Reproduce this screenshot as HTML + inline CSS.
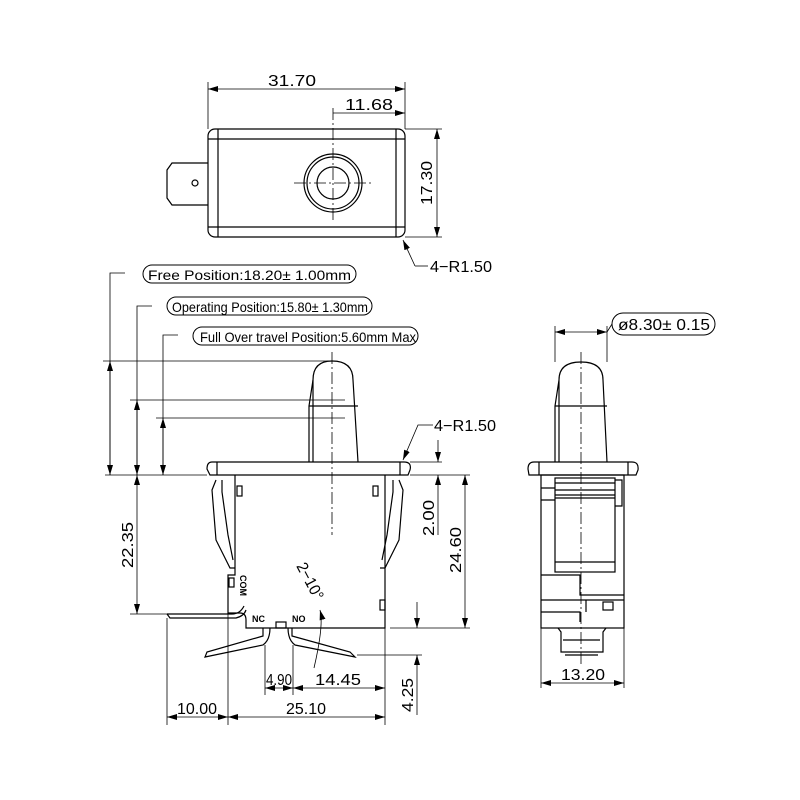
<!DOCTYPE html>
<html><head><meta charset="utf-8"><style>
html,body{margin:0;padding:0;background:#fff;}
svg{display:block;}
text{font-family:"Liberation Sans",sans-serif;fill:#000;}
</style></head><body>
<svg width="800" height="800" viewBox="0 0 800 800" xmlns="http://www.w3.org/2000/svg">
<defs>
<marker id="a" viewBox="0 0 10 6" refX="10" refY="3" markerWidth="10" markerHeight="6" orient="auto-start-reverse" markerUnits="userSpaceOnUse"><path d="M0,0L10,3L0,6z" fill="#000"/></marker>
</defs>
<g fill="none" stroke="#000" stroke-width="1.2">
<rect x="208" y="129" width="197" height="108" rx="7"/>
<line x1="218" y1="129" x2="218" y2="237"/><line x1="396" y1="129" x2="396" y2="237"/>
<line x1="208" y1="139" x2="405" y2="139"/><line x1="208" y1="227" x2="405" y2="227"/>
<path d="M208,163H172L167,170V198L172,205H208"/>
<circle cx="195" cy="183" r="3"/>
<circle cx="333" cy="183" r="29"/><circle cx="333" cy="183" r="26"/><circle cx="333" cy="183" r="16"/>
<g stroke-width="0.8" stroke-dasharray="12,3,2,3"><line x1="333" y1="108" x2="333" y2="222"/><line x1="294" y1="183" x2="372" y2="183"/></g>
<g stroke-width="0.8">
<line x1="208" y1="82" x2="208" y2="129"/><line x1="405" y1="82" x2="405" y2="129"/>
<line x1="208" y1="89" x2="405" y2="89" marker-start="url(#a)" marker-end="url(#a)"/>
<line x1="333" y1="113" x2="405" y2="113" marker-end="url(#a)"/>
<line x1="405" y1="129" x2="442" y2="129"/><line x1="405" y1="237" x2="442" y2="237"/>
<line x1="437" y1="129" x2="437" y2="237" marker-start="url(#a)" marker-end="url(#a)"/>
<path d="M415,266L403,240" marker-end="url(#a)"/><line x1="415" y1="266" x2="428" y2="266"/>
</g>
<path d="M313,462V380Q313,361 332,361Q353,361 353,380L358,462"/>
<path d="M309,462L309,406L313,380M309,406H358"/>
<path d="M212,462H404Q412,462 410,470L408,475H210L207,469Q207,462 212,462Z"/>
<line x1="217" y1="462" x2="217" y2="475"/><line x1="400" y1="462" x2="400" y2="475"/>
<path d="M235,475V575H228V613H240Q246,613 246,620V628H385V475"/>
<path d="M216,480L212,490L216,540L230,568H235M222,480L222,492L228,535L233,560"/>
<path d="M399,480L403,490L399,540L385,568H380M393,480L393,492L387,535L382,560"/>
<rect x="237" y="486" width="5" height="10"/><rect x="373" y="486" width="5" height="10"/>
<rect x="229" y="578" width="5" height="9"/><rect x="380" y="600" width="5" height="10"/>
<rect x="276" y="622" width="10" height="6"/>
<path d="M167,614H232Q240,614 244,606M167,614L170,618H236Q244,616 246,610"/>
<path d="M263,628V636L207,652L205,657L263,645Q270,640 270,628"/>
<path d="M292,628V636L350,652L355,657L295,645Q288,640 288,628"/>
<g stroke-width="0.8" stroke-dasharray="12,3,2,3"><line x1="332" y1="352" x2="332" y2="535"/></g>
<g stroke-width="0.8">
<line x1="103" y1="361" x2="332" y2="361"/>
<line x1="130" y1="400" x2="345" y2="400"/>
<line x1="156" y1="418" x2="345" y2="418"/>
<line x1="105" y1="475" x2="207" y2="475"/>
<line x1="410" y1="475" x2="470" y2="475"/><line x1="410" y1="462" x2="442" y2="462"/>
<path d="M125,273H110V475" /><line x1="110" y1="361" x2="110" y2="475" marker-start="url(#a)" marker-end="url(#a)"/>
<path d="M152,306H137V475"/><line x1="137" y1="400" x2="137" y2="475" marker-start="url(#a)" marker-end="url(#a)"/>
<path d="M178,335H163V475"/><line x1="163" y1="418" x2="163" y2="475" marker-start="url(#a)" marker-end="url(#a)"/>
<path d="M433,425H418L403,460" marker-end="url(#a)"/>
<line x1="137" y1="475" x2="137" y2="614" marker-start="url(#a)" marker-end="url(#a)"/>
<line x1="130" y1="614" x2="167" y2="614"/>
<line x1="438" y1="440" x2="438" y2="462" marker-end="url(#a)"/><line x1="438" y1="475" x2="438" y2="535" marker-start="url(#a)"/>
<line x1="390" y1="628" x2="470" y2="628"/>
<line x1="465" y1="475" x2="465" y2="628" marker-start="url(#a)" marker-end="url(#a)"/>
<line x1="357" y1="655" x2="422" y2="655"/>
<line x1="417" y1="602" x2="417" y2="628" marker-end="url(#a)"/><line x1="417" y1="655" x2="417" y2="715" marker-start="url(#a)"/>
<line x1="167" y1="618" x2="167" y2="725"/><line x1="228" y1="613" x2="228" y2="725"/><line x1="385" y1="628" x2="385" y2="725"/>
<line x1="265" y1="645" x2="265" y2="695"/><line x1="293" y1="645" x2="293" y2="695"/>
<line x1="265" y1="688" x2="293" y2="688" marker-start="url(#a)" marker-end="url(#a)"/>
<line x1="293" y1="688" x2="385" y2="688" marker-start="url(#a)" marker-end="url(#a)"/>
<line x1="167" y1="717" x2="228" y2="717" marker-start="url(#a)" marker-end="url(#a)"/>
<line x1="228" y1="717" x2="385" y2="717" marker-start="url(#a)" marker-end="url(#a)"/>
<path d="M320,610Q324,625 314,668" marker-start="url(#a)"/>
</g>
<g stroke-width="1">
<rect x="143" y="265" width="213" height="18" rx="9"/>
<rect x="167" y="297" width="205" height="18" rx="9"/>
<rect x="193" y="327" width="225" height="18" rx="9"/>
<rect x="612" y="313" width="103" height="22" rx="11"/>
</g>
<path d="M559,462V380Q559,362 581,362Q603,362 603,380L607,462M555,462V406L559,380M555,406H607"/>
<path d="M534,462H632Q639,462 638,470L636,475H529L528,469Q528,462 534,462Z"/>
<line x1="539" y1="462" x2="539" y2="475"/><line x1="628" y1="462" x2="628" y2="475"/>
<rect x="541" y="475" width="83" height="153"/>
<rect x="555" y="478" width="60" height="94"/>
<line x1="555" y1="483" x2="615" y2="483"/><line x1="555" y1="490" x2="615" y2="490"/><line x1="555" y1="495" x2="615" y2="495"/><line x1="555" y1="498" x2="615" y2="498"/><line x1="555" y1="562" x2="615" y2="562"/>
<path d="M615,480H622V506H615M541,488H555M541,500H555M541,575H580V595H624M541,600H624M541,612H580V622M586,600V612"/>
<rect x="603" y="602" width="10" height="8"/>
<path d="M558,628L561,632V652H603V632L606,628M563,640H600M565,655H598"/>
<g stroke-width="0.8" stroke-dasharray="12,3,2,3"><line x1="581" y1="352" x2="581" y2="665"/></g>
<g stroke-width="0.8">
<line x1="555" y1="326" x2="555" y2="362"/><line x1="607" y1="326" x2="607" y2="362"/>
<line x1="555" y1="332" x2="607" y2="332" marker-start="url(#a)" marker-end="url(#a)"/><line x1="607" y1="332" x2="612" y2="324"/>
<line x1="541" y1="628" x2="541" y2="688"/><line x1="624" y1="628" x2="624" y2="688"/>
<line x1="541" y1="683" x2="624" y2="683" marker-start="url(#a)" marker-end="url(#a)"/>
</g>
</g>
<g font-size="16">
<text x="292" y="86" text-anchor="middle" textLength="48" lengthAdjust="spacingAndGlyphs">31.70</text>
<text x="369" y="110" text-anchor="middle" textLength="48" lengthAdjust="spacingAndGlyphs">11.68</text>
<text transform="translate(432,183) rotate(-90)" text-anchor="middle" textLength="44" lengthAdjust="spacingAndGlyphs">17.30</text>
<text x="430" y="272" textLength="62" lengthAdjust="spacingAndGlyphs">4−R1.50</text>
<text x="434" y="431" textLength="62" lengthAdjust="spacingAndGlyphs">4−R1.50</text>
<text x="148" y="280" font-size="14" textLength="203" lengthAdjust="spacingAndGlyphs">Free Position:18.20± 1.00mm</text>
<text x="172" y="312" font-size="14" textLength="196" lengthAdjust="spacingAndGlyphs">Operating Position:15.80± 1.30mm</text>
<text x="200" y="342" font-size="14" textLength="216" lengthAdjust="spacingAndGlyphs">Full Over travel Position:5.60mm Max</text>
<text x="618" y="330" textLength="92" lengthAdjust="spacingAndGlyphs">ø8.30± 0.15</text>
<text transform="translate(133,545) rotate(-90)" text-anchor="middle" textLength="46" lengthAdjust="spacingAndGlyphs">22.35</text>
<text transform="translate(434,518) rotate(-90)" text-anchor="middle" textLength="36" lengthAdjust="spacingAndGlyphs">2.00</text>
<text transform="translate(461,550) rotate(-90)" text-anchor="middle" textLength="46" lengthAdjust="spacingAndGlyphs">24.60</text>
<text transform="translate(413,695) rotate(-90)" text-anchor="middle" textLength="34" lengthAdjust="spacingAndGlyphs">4.25</text>
<text x="279" y="685" text-anchor="middle" textLength="26" lengthAdjust="spacingAndGlyphs">4.90</text>
<text x="338" y="685" text-anchor="middle" textLength="46" lengthAdjust="spacingAndGlyphs">14.45</text>
<text x="197" y="714" text-anchor="middle" textLength="40" lengthAdjust="spacingAndGlyphs">10.00</text>
<text x="306" y="714" text-anchor="middle" textLength="40" lengthAdjust="spacingAndGlyphs">25.10</text>
<text x="583" y="680" text-anchor="middle" textLength="44" lengthAdjust="spacingAndGlyphs">13.20</text>
<text transform="translate(296,566) rotate(62)" textLength="40" lengthAdjust="spacingAndGlyphs">2−10°</text>
</g>
<g font-size="9" font-weight="bold">
<text x="252" y="622">NC</text><text x="292" y="622">NO</text>
<text transform="translate(240,575) rotate(90)">COM</text>
</g>
</svg>
</body></html>
